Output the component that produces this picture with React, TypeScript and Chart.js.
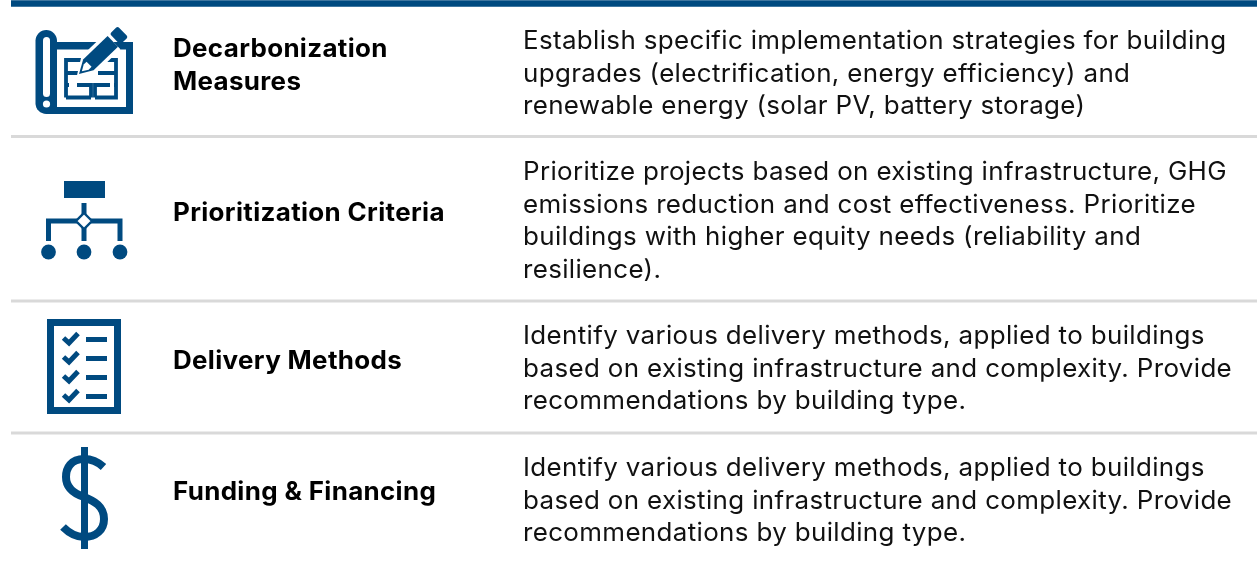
import React, { useEffect, useRef } from "react";
import { Chart, registerables } from "chart.js";

Chart.register(...registerables);

const titles: string[][] = [
  ["Decarbonization", "Measures"],
  ["Prioritization Criteria"],
  ["Delivery Methods"],
  ["Funding & Financing"],
];
const descriptions: string[][] = [
  [
    "Establish specific implementation strategies for building",
    "upgrades (electrification, energy efficiency) and",
    "renewable energy (solar PV, battery storage)",
  ],
  [
    "Prioritize projects based on existing infrastructure, GHG",
    "emissions reduction and cost effectiveness. Prioritize",
    "buildings with higher equity needs (reliability and",
    "resilience).",
  ],
  [
    "Identify various delivery methods, applied to buildings",
    "based on existing infrastructure and complexity. Provide",
    "recommendations by building type.",
  ],
  [
    "Identify various delivery methods, applied to buildings",
    "based on existing infrastructure and complexity. Provide",
    "recommendations by building type.",
  ],
];
const titleFirstBaseline = [57, 221, 369, 500];
const descFirstBaseline = [49, 180, 344, 476];
const dividerLevels = [136.5, 301, 433];

const BLUE = "#004a80";
const GREY = "#d9d9d9";
const W = 1257;
const H = 562;
const STRETCH = 1.03;

type C = CanvasRenderingContext2D;

function rr(c: C, x: number, y: number, w: number, h: number, r: number) {
  c.beginPath();
  c.roundRect(x, y, w, h, r);
}

function blueprint(c: C) {
  c.fillStyle = BLUE;
  c.strokeStyle = BLUE;
  c.beginPath();
  c.moveTo(50, 42);
  c.lineTo(133, 42);
  c.lineTo(133, 114);
  c.lineTo(50, 114);
  c.closePath();
  c.moveTo(57, 49.5);
  c.lineTo(57, 107);
  c.lineTo(126, 107);
  c.lineTo(126, 49.5);
  c.closePath();
  c.fill();
  c.beginPath();
  c.roundRect(35.5, 30, 21.5, 84, 11);
  c.fill();
  c.fillRect(46, 107, 20, 7);
  c.fillStyle = "#fff";
  rr(c, 43, 37, 7, 60, 3.5);
  c.fill();
  c.beginPath();
  c.arc(46.5, 104, 3.6, 0, Math.PI * 2);
  c.fill();
  // plan
  c.strokeStyle = BLUE;
  c.lineWidth = 3.8;
  c.lineCap = "butt";
  c.beginPath();
  c.moveTo(66, 97.5);
  c.lineTo(66, 60);
  c.lineTo(116, 60);
  c.lineTo(116, 97.5);
  c.lineTo(95, 97.5);
  c.moveTo(91, 97.5);
  c.lineTo(66, 97.5);
  c.moveTo(66, 73);
  c.lineTo(82, 73);
  c.moveTo(66, 85);
  c.lineTo(69, 85);
  c.moveTo(77, 85);
  c.lineTo(91, 85);
  c.lineTo(91, 97.5);
  c.moveTo(95, 97.5);
  c.lineTo(95, 85);
  c.lineTo(110, 85);
  c.moveTo(114, 85);
  c.lineTo(116, 85);
  c.moveTo(98, 73);
  c.lineTo(116, 73);
  c.stroke();
  // pencil
  c.save();
  c.translate(79, 74);
  c.rotate((-44 * Math.PI) / 180);
  c.fillStyle = "#fff";
  c.beginPath();
  c.moveTo(-3, 0);
  c.lineTo(14, -11);
  c.lineTo(47, -11);
  c.lineTo(47, 11);
  c.lineTo(14, 11);
  c.closePath();
  c.fill();
  c.fillStyle = BLUE;
  c.beginPath();
  c.moveTo(0, 0);
  c.lineTo(13, -7.5);
  c.lineTo(47, -7.5);
  c.lineTo(47, 7.5);
  c.lineTo(13, 7.5);
  c.closePath();
  c.fill();
  c.fillStyle = "#fff";
  c.beginPath();
  c.moveTo(4, 0);
  c.lineTo(10, -3.6);
  c.lineTo(14, -3.6);
  c.lineTo(14, 3.6);
  c.lineTo(10, 3.6);
  c.closePath();
  c.fill();
  c.fillStyle = BLUE;
  rr(c, 50, -7.5, 11, 15, 2);
  c.fill();
  c.restore();
}

function hierarchy(c: C) {
  c.fillStyle = BLUE;
  c.fillRect(64, 181, 41, 17);
  c.strokeStyle = BLUE;
  c.lineWidth = 5;
  c.beginPath();
  c.moveTo(84, 203);
  c.lineTo(84, 241);
  c.moveTo(48.5, 241);
  c.lineTo(48.5, 221);
  c.lineTo(120, 221);
  c.lineTo(120, 241);
  c.stroke();
  c.beginPath();
  c.moveTo(84, 213);
  c.lineTo(92, 221);
  c.lineTo(84, 229);
  c.lineTo(76, 221);
  c.closePath();
  c.fillStyle = "#fff";
  c.fill();
  c.lineWidth = 2.4;
  c.stroke();
  c.fillStyle = BLUE;
  for (const x of [48.5, 84, 120]) {
    c.beginPath();
    c.arc(x, 252, 7.4, 0, Math.PI * 2);
    c.fill();
  }
}

function checklist(c: C) {
  c.strokeStyle = BLUE;
  c.lineWidth = 7;
  c.strokeRect(50.5, 322.5, 67, 88);
  c.fillStyle = BLUE;
  c.lineWidth = 5;
  for (const y of [339.5, 358.5, 377.5, 396.5]) {
    c.beginPath();
    c.moveTo(63.5, y - 1.5);
    c.lineTo(69, y + 3.5);
    c.lineTo(78, y - 6);
    c.stroke();
    c.fillRect(86, y - 2.5, 21, 5);
  }
}

function dollar(c: C) {
  c.fillStyle = BLUE;
  c.fillRect(81, 447, 7, 102);
  c.strokeStyle = BLUE;
  c.lineWidth = 8;
  c.lineCap = "butt";
  c.lineJoin = "round";
  c.beginPath();
  c.moveTo(103.5, 467);
  c.bezierCurveTo(97, 461, 91, 459, 84, 459);
  c.bezierCurveTo(71, 459, 66, 468, 66, 477);
  c.bezierCurveTo(66, 489, 75, 494, 84, 497);
  c.bezierCurveTo(94, 501, 104, 506, 104, 519);
  c.bezierCurveTo(104, 530, 96, 537, 84, 537);
  c.bezierCurveTo(76, 537, 70, 534, 63, 527);
  c.stroke();
}

function stretchedText(c: any, t: string, x: number, y: number) {
  c.save();
  c.translate(x, y);
  c.scale(STRETCH, 1);
  c.fillText(t, 0, 0);
  c.restore();
}

const pagePlugin = {
  id: "page",
  beforeDatasetsDraw(chart: Chart) {
    const c = chart.ctx as any;
    const xs = chart.scales.x;
    const ys = chart.scales.y;
    c.save();
    c.textAlign = "left";
    c.textBaseline = "alphabetic";
    c.fillStyle = "#000";
    c.font = "700 25.2px Inter";
    c.letterSpacing = "0.33px";
    titles.forEach((lines, i) =>
      lines.forEach((t, j) =>
        stretchedText(c, t, xs.getPixelForValue(173), ys.getPixelForValue(titleFirstBaseline[i] + j * 33))
      )
    );
    c.font = "400 25.2px Inter";
    c.letterSpacing = "0.34px";
    c.fillStyle = "#111";
    descriptions.forEach((lines, i) =>
      lines.forEach((t, j) =>
        stretchedText(c, t, xs.getPixelForValue(523), ys.getPixelForValue(descFirstBaseline[i] + j * 32.7))
      )
    );
    c.letterSpacing = "0px";
    blueprint(c);
    c.lineJoin = "miter";
    hierarchy(c);
    checklist(c);
    dollar(c);
    c.restore();
  },
};

export default function App() {
  const ref = useRef<HTMLCanvasElement>(null);
  useEffect(() => {
    document.body.style.margin = "0";
    const chart = new Chart(ref.current!, {
      type: "scatter",
      data: {
        datasets: [
          {
            label: "Top rule",
            data: [{ x: 11, y: 3.5 }, { x: W, y: 3.5 }],
            showLine: true,
            borderColor: BLUE,
            borderWidth: 6.5,
            pointRadius: 0,
          },
          ...dividerLevels.map((y, i) => ({
            label: `Divider ${i + 1}`,
            data: [{ x: 11, y }, { x: W, y }],
            showLine: true,
            borderColor: GREY,
            borderWidth: 3,
            pointRadius: 0,
          })),
        ],
      },
      options: {
        animation: false,
        responsive: false,
        layout: { padding: 0 },
        plugins: { legend: { display: false }, tooltip: { enabled: false } },
        scales: {
          x: { type: "linear", min: 0, max: W, display: false },
          y: { type: "linear", min: 0, max: H, reverse: true, display: false },
        },
      },
      plugins: [pagePlugin],
    });
    return () => chart.destroy();
  }, []);
  return <canvas ref={ref} width={W} height={H} style={{ display: "block" }} />;
}
